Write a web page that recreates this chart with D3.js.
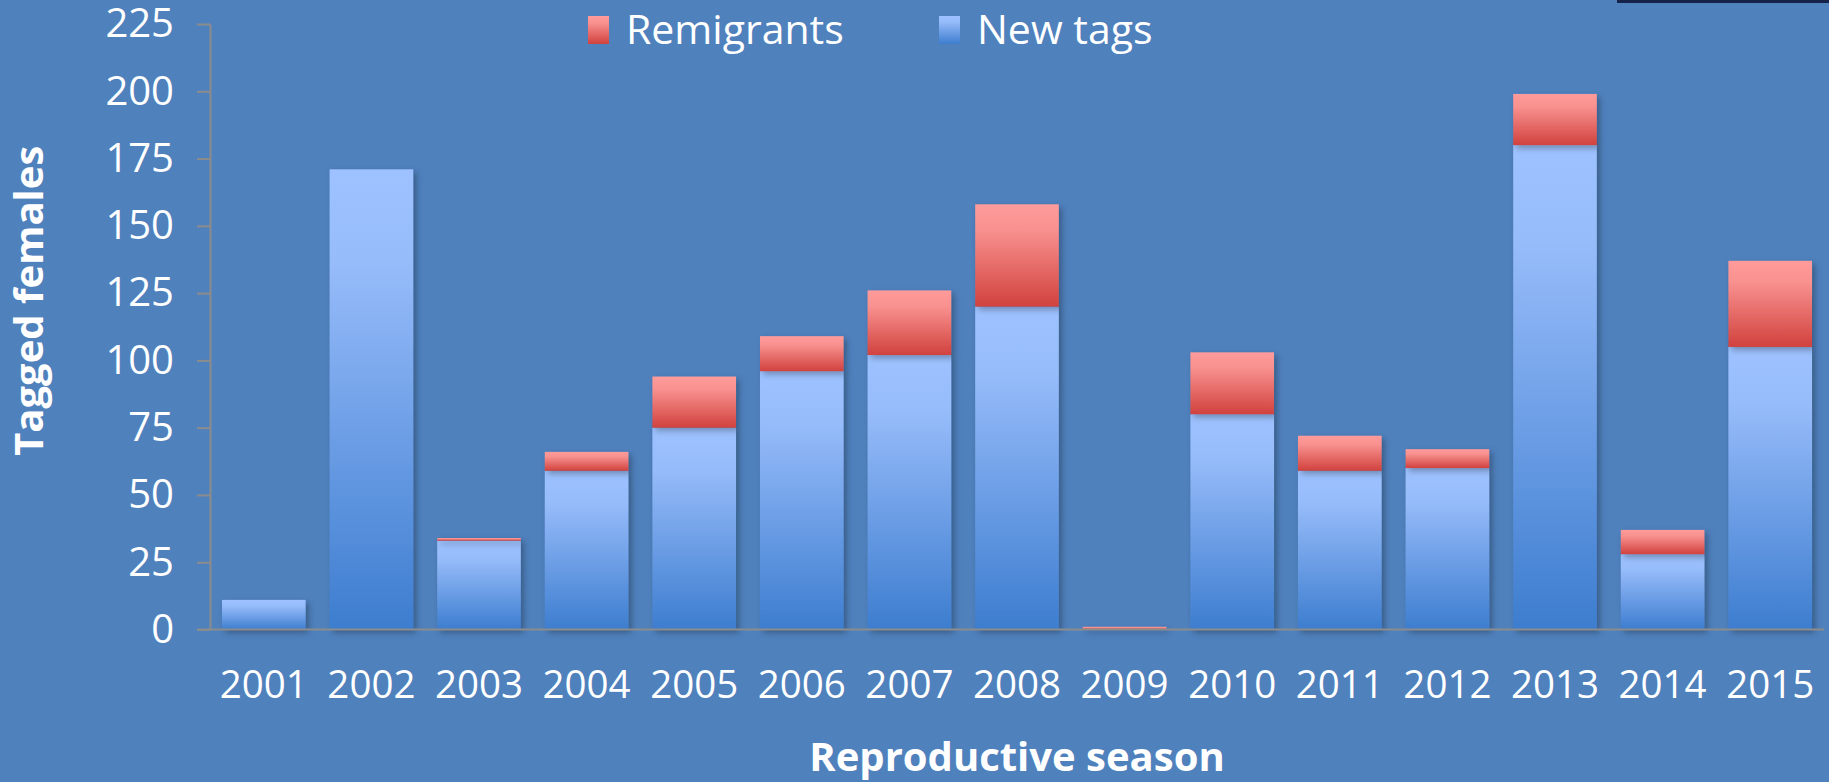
<!DOCTYPE html>
<html>
<head>
<meta charset="utf-8">
<script src="https://cdn.jsdelivr.net/npm/d3@7"></script>
<style>
  html, body { margin: 0; padding: 0; background: #4f81bd; }
  svg { display: block; }
  text { font-family: "Open Sans", sans-serif; fill: #fff; }
</style>
</head>
<body>
<div id="chart"></div>
<script>
const seasons = ["2001", "2002", "2003", "2004", "2005", "2006", "2007", "2008",
  "2009", "2010", "2011", "2012", "2013", "2014", "2015"];
const newTags = [11, 171, 33, 59, 75, 96, 102, 120, 0, 80, 59, 60, 180, 28, 105];
const remigrants = [0, 0, 1, 7, 19, 13, 24, 38, 1, 23, 13, 7, 19, 9, 32];
const yTicks = [0, 25, 50, 75, 100, 125, 150, 175, 200, 225];

const width = 1829;
const height = 782;
const margin = { top: 24, right: 5, bottom: 152.5, left: 210 };

const svg = d3.select("#chart")
  .append("svg")
  .attr("width", width)
  .attr("height", height);

svg.append("rect")
  .attr("width", width)
  .attr("height", height)
  .attr("fill", "#4f81bd");

// bit of a pasted picture peeking in at the top right
svg.append("rect")
  .attr("x", 1617).attr("y", 0)
  .attr("width", 212).attr("height", 3)
  .attr("fill", "#15234a");

const defs = svg.append("defs");

const blueGrad = defs.append("linearGradient")
  .attr("id", "blueGrad")
  .attr("x1", 0).attr("y1", 0).attr("x2", 0).attr("y2", 1);
blueGrad.append("stop").attr("offset", "0%").attr("stop-color", "#9dc2ff");
blueGrad.append("stop").attr("offset", "20%").attr("stop-color", "#97bcfa");
blueGrad.append("stop").attr("offset", "100%").attr("stop-color", "#3d7dcf");

const redGrad = defs.append("linearGradient")
  .attr("id", "redGrad")
  .attr("x1", 0).attr("y1", 0).attr("x2", 0).attr("y2", 1);
redGrad.append("stop").attr("offset", "0%").attr("stop-color", "#ff9b9b");
redGrad.append("stop").attr("offset", "25%").attr("stop-color", "#f8918f");
redGrad.append("stop").attr("offset", "100%").attr("stop-color", "#d1423e");

const shadow = defs.append("filter")
  .attr("id", "shadow")
  .attr("x", "-10%").attr("y", "-10%")
  .attr("width", "130%").attr("height", "130%");
shadow.append("feDropShadow")
  .attr("dx", 3).attr("dy", 3)
  .attr("stdDeviation", 3)
  .attr("flood-color", "#000")
  .attr("flood-opacity", 0.3);

const xScale = d3.scaleBand()
  .domain(seasons)
  .range([margin.left, width - margin.right])
  .paddingInner(0.223)
  .paddingOuter(0.1115);

const yScale = d3.scaleLinear()
  .domain([0, 225])
  .range([height - margin.bottom, margin.top]);

// stacked: new tags at the bottom, remigrants on top
const rows = seasons.map((s, i) => ({ season: s, newTags: newTags[i], remigrants: remigrants[i] }));
const stacked = d3.stack().keys(["newTags", "remigrants"])(rows);
const fills = { newTags: "url(#blueGrad)", remigrants: "url(#redGrad)" };

svg.selectAll("g.layer")
  .data(stacked)
  .enter()
  .append("g")
  .attr("class", "layer")
  .attr("fill", d => fills[d.key])
  .attr("filter", "url(#shadow)")
  .selectAll("rect")
  .data(d => d.filter(p => p[1] > p[0]))
  .enter()
  .append("rect")
  .attr("x", d => xScale(d.data.season))
  .attr("y", d => yScale(d[1]))
  .attr("width", xScale.bandwidth())
  .attr("height", d => yScale(d[0]) - yScale(d[1]));

// y axis
const yAxis = svg.append("g")
  .attr("transform", `translate(${margin.left},0)`)
  .call(d3.axisLeft(yScale).tickValues(yTicks).tickSize(13).tickSizeOuter(0).tickPadding(23));
yAxis.selectAll("path, line").attr("stroke", "#8c8c8c").attr("stroke-width", 2);
yAxis.selectAll("text")
  .attr("fill", "#fff")
  .style("font-size", "40px")
  .style("font-family", "'Open Sans', sans-serif");

// x axis
const xAxis = svg.append("g")
  .attr("transform", `translate(0,${yScale(0)})`)
  .call(d3.axisBottom(xScale).tickSize(0).tickPadding(41));
xAxis.select(".domain").remove();
xAxis.selectAll("text")
  .attr("fill", "#fff")
  .style("font-size", "38.5px")
  .style("font-family", "'Open Sans', sans-serif");

svg.append("line")
  .attr("x1", margin.left - 13)
  .attr("x2", width - margin.right)
  .attr("y1", yScale(0))
  .attr("y2", yScale(0))
  .attr("stroke", "#8c8c8c")
  .attr("stroke-width", 2);

// axis titles
svg.append("text")
  .attr("transform", `translate(43,${(yScale(0) + yScale(225)) / 2 - 26}) rotate(-90)`)
  .attr("text-anchor", "middle")
  .style("font-size", "40px")
  .style("font-weight", "bold")
  .text("Tagged females");

svg.append("text")
  .attr("x", 1017)
  .attr("y", 771)
  .attr("text-anchor", "middle")
  .style("font-size", "40px")
  .style("font-weight", "bold")
  .text("Reproductive season");

// legend
const legendItems = [
  { label: "Remigrants", fill: "url(#redGrad)", x: 588 },
  { label: "New tags", fill: "url(#blueGrad)", x: 939 }
];
const legend = svg.selectAll("g.legend")
  .data(legendItems)
  .enter()
  .append("g")
  .attr("class", "legend")
  .attr("transform", d => `translate(${d.x},16)`);
legend.append("rect")
  .attr("width", 21)
  .attr("height", 28)
  .attr("fill", d => d.fill);
legend.append("text")
  .attr("x", 38)
  .attr("y", 28)
  .style("font-size", "41px")
  .text(d => d.label);
</script>
</body>
</html>
